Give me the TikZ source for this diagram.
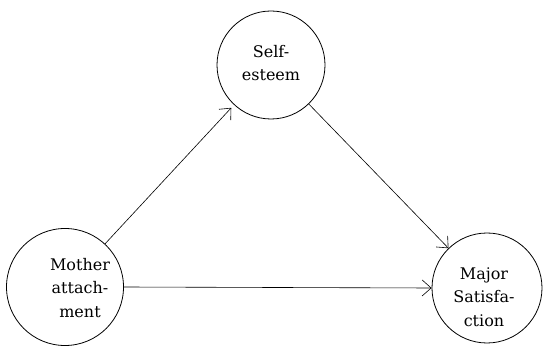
\documentclass[tikz,border=0pt]{standalone}
\usepackage{fontspec}
\setmainfont{DejaVu Serif}
\usetikzlibrary{arrows.meta}
\begin{document}
\begin{tikzpicture}[x=1pt,y=-1pt,
  var/.style={draw,circle,line width=0.8pt,minimum size=#1,inner sep=0pt},
  lbl/.style={align=center,font=\fontsize{16}{23.5}\selectfont,inner sep=0pt},
  arr/.style={line width=0.6pt,-{Straight Barb[length=9pt,width=16pt]}}]
\useasboundingbox (0,0) rectangle (546,347);
\node[var=108pt] (se) at (271,65) {};
\node[var=117pt] (ma) at (65,287) {};
\node[var=110pt] (ms) at (487,288) {};
\node[lbl] (tse) at (271,63) {Self-\\esteem};
\node[lbl] (tma) at (80,288) {Mother\\attach-\\ment};
\node[lbl] (tms) at (484,297) {Major\\Satisfa-\\ction};
\draw[arr,shorten >=4pt] (ma) -- (se);
\draw[arr] (se) -- (ms);
\draw[arr] (ma.east) -- (ms.west);
\end{tikzpicture}
\end{document}
